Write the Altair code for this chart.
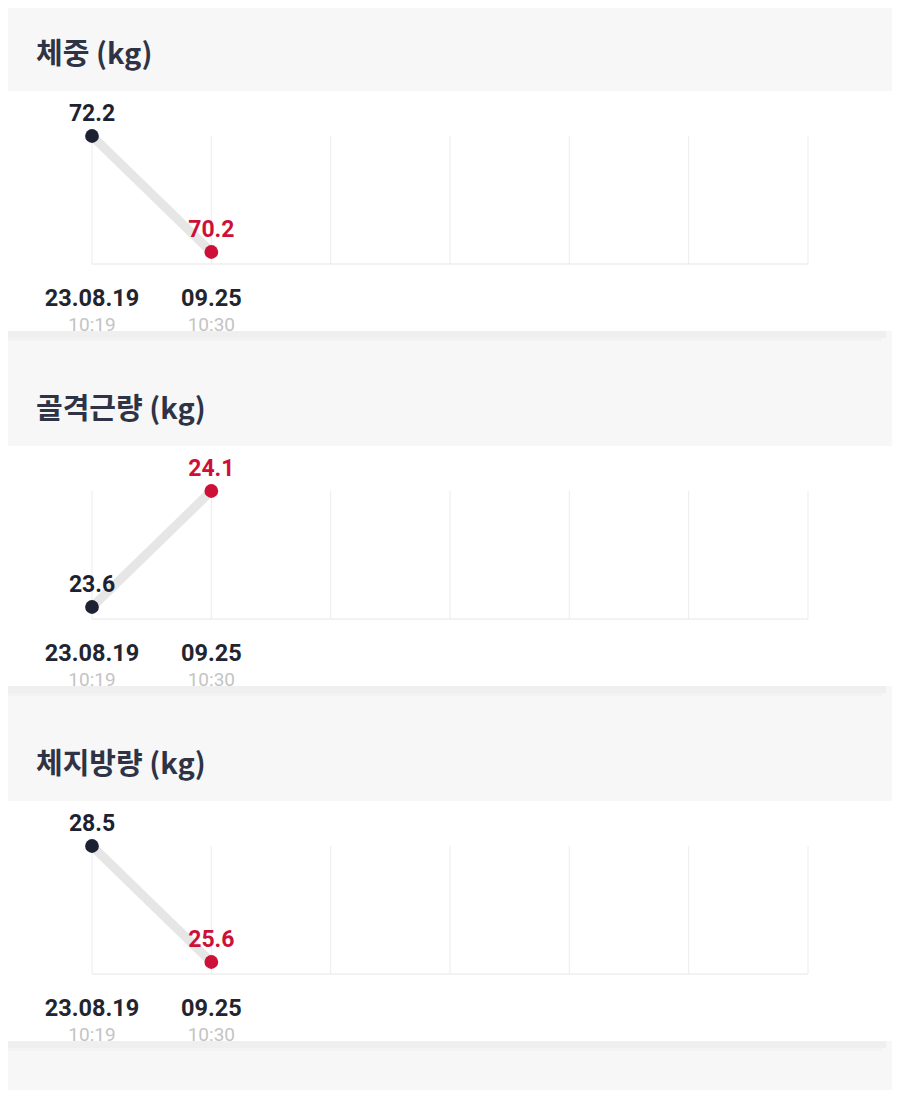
import altair as alt
import pandas as pd

titles = ["체중 (kg)", "골격근량 (kg)", "체지방량 (kg)"]
weight = [72.2, 70.2]
muscle = [23.6, 24.1]
fat = [28.5, 25.6]
series = [weight, muscle, fat]
dates = ["23.08.19", "09.25"]
times = ["10:19", "10:30"]
grid_slots = [0, 1, 2, 3, 4, 5, 6]

DARK = "#1d2233"
RED = "#cc1038"
RED_TXT = "#b8193d"
TITLE_C = "#2e3345"
W = 884
SECTION_H = 355


def make_panel(title, values, off, height):
    n = len(values)
    df = pd.DataFrame({
        "i": list(range(n)),
        "v": values,
        "lab": [f"{v:.1f}" for v in values],
        "date": dates,
        "time": times,
        "last": [k == n - 1 for k in range(n)],
    })
    grid = pd.DataFrame({"i": grid_slots})
    vmin, vmax = min(values), max(values)
    xs = alt.Scale(domain=[0, 6], range=[84, 800])
    ys = alt.Scale(domain=[vmin, vmax], range=[252 + off, 136 + off])
    X = alt.X("i:Q", scale=xs, axis=None)

    base_rect = alt.Chart(pd.DataFrame({"a": [0]}))
    card = base_rect.mark_rect(color="white").encode(
        x=alt.value(0), x2=alt.value(W), y=alt.value(91 + off), y2=alt.value(331 + off))
    shadow = base_rect.mark_rect(color="#efefef").encode(
        x=alt.value(0), x2=alt.value(W - 6), y=alt.value(331 + off), y2=alt.value(338 + off))
    shadow2 = base_rect.mark_rect(color="#f3f3f3").encode(
        x=alt.value(0), x2=alt.value(W - 10), y=alt.value(338 + off), y2=alt.value(341 + off))
    ttl = alt.Chart(pd.DataFrame({"t": [title]})).mark_text(
        align="left", baseline="middle", fontSize=29, fontWeight="bold",
        font="Noto Sans CJK KR", color=TITLE_C).encode(
        x=alt.value(28), y=alt.value(55 + off), text="t:N")

    vgrid = alt.Chart(grid).mark_rule(color="#ececec", strokeWidth=1).encode(
        x=X, y=alt.value(136 + off), y2=alt.value(264 + off))
    hgrid = base_rect.mark_rule(color="#e6e6e6", strokeWidth=1).encode(
        x=alt.value(84), x2=alt.value(800), y=alt.value(264 + off))

    Y = alt.Y("v:Q", scale=ys, axis=None)
    line = alt.Chart(df).mark_line(color="#e6e6e6", strokeWidth=9).encode(x=X, y=Y)
    pts = alt.Chart(df).mark_circle(size=190, opacity=1).encode(
        x=X, y=Y,
        color=alt.Color("last:N", scale=alt.Scale(domain=[False, True], range=[DARK, RED]), legend=None))
    labs = alt.Chart(df).mark_text(
        dy=-22, fontSize=23, fontWeight="bold", font="Roboto", baseline="middle").encode(
        x=X, y=Y, text="lab:N",
        color=alt.Color("last:N", scale=alt.Scale(domain=[False, True], range=["#22252f", RED_TXT]), legend=None))
    dlab = alt.Chart(df).mark_text(
        fontSize=23.5, fontWeight="bold", font="Roboto", baseline="middle", color="#22252f").encode(
        x=X, y=alt.value(299 + off), text="date:N")
    tlab = alt.Chart(df).mark_text(
        fontSize=19, font="Roboto", baseline="middle", color="#c4c4c4").encode(
        x=X, y=alt.value(325 + off), text="time:N")

    return alt.layer(card, ttl, vgrid, hgrid, line, pts, labs, dlab, tlab, shadow, shadow2).properties(
        width=W, height=height)


p1 = make_panel(titles[0], series[0], -8, SECTION_H - 8)
p2 = make_panel(titles[1], series[1], 0, SECTION_H)
p3 = make_panel(titles[2], series[2], 0, 1090 - 8 - (2 * SECTION_H - 8))

chart = alt.vconcat(p1, p2, p3, spacing=0).resolve_scale(
    x="independent", y="independent", color="independent").properties(
    padding=0, background="#f7f7f7").configure_view(strokeWidth=0)

chart.save("out.html", embed_options={"renderer": "svg", "actions": False})
